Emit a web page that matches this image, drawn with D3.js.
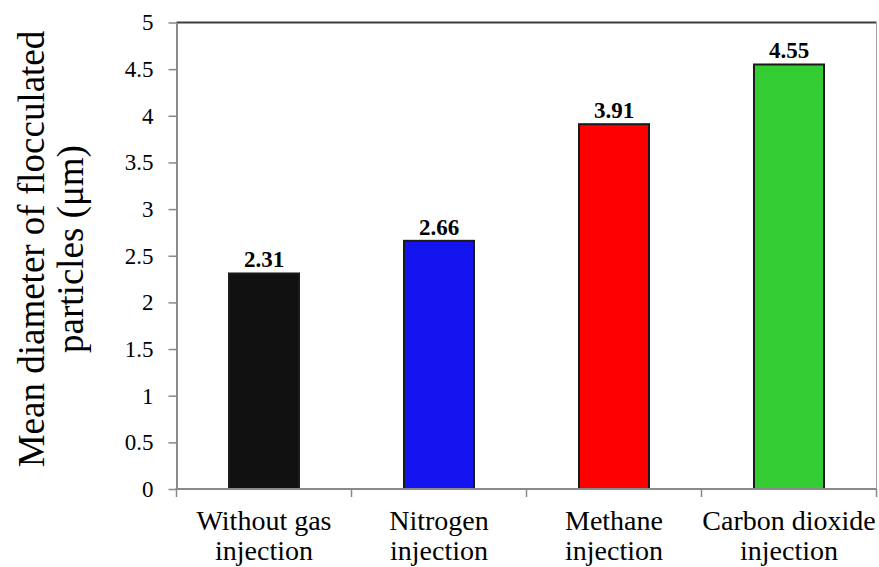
<!DOCTYPE html>
<html>
<head>
<meta charset="utf-8">
<script src="https://cdn.jsdelivr.net/npm/d3@7"></script>
<style>
  html, body { margin: 0; padding: 0; background: #fff; }
  svg { display: block; }
  svg text { font-family: "Liberation Serif", "Times New Roman", serif; }
</style>
</head>
<body>
<svg id="chart" width="879" height="567"></svg>
<script>
// Mean diameter of flocculated particles by gas injection type
const categories = ["Without gas injection", "Nitrogen injection", "Methane injection", "Carbon dioxide injection"];
const categoryLines = [["Without gas", "injection"], ["Nitrogen", "injection"], ["Methane", "injection"], ["Carbon dioxide", "injection"]];
const meanDiameter = [2.31, 2.66, 3.91, 4.55];
const barColors = ["#111111", "#1414f0", "#ff0000", "#33cc33"];
const yTicks = [0, 0.5, 1, 1.5, 2, 2.5, 3, 3.5, 4, 4.5, 5];
const yTitleLines = ["Mean diameter of flocculated", "particles (\u03bcm)"];

const serif = '"Liberation Serif", "Times New Roman", serif';
const svg = d3.select("#chart");
const plot = { left: 176.5, right: 876.5, top: 22.5, bottom: 489 };

const x = d3.scaleBand()
  .domain(categories)
  .range([plot.left, plot.right])
  .paddingInner(0.6)
  .paddingOuter(0.3);

// boundaries between categories (for the x tick marks)
const xEdge = d3.scaleLinear().domain([0, categories.length]).range([plot.left, plot.right]);

const y = d3.scaleLinear().domain([0, 5]).range([plot.bottom, plot.top]);

// bars
svg.append("g")
  .selectAll("rect")
  .data(meanDiameter)
  .join("rect")
  .attr("x", (d, i) => x(categories[i]))
  .attr("y", d => y(d))
  .attr("width", x.bandwidth())
  .attr("height", d => y(0) - y(d))
  .attr("fill", (d, i) => barColors[i])
  .attr("stroke", "#1a1a1a")
  .attr("stroke-width", 2);

// value labels
svg.append("g")
  .selectAll("text")
  .data(meanDiameter)
  .join("text")
  .attr("x", (d, i) => x(categories[i]) + x.bandwidth() / 2)
  .attr("y", d => y(d) - 6)
  .attr("text-anchor", "middle")
  .style("font-family", serif)
  .attr("font-weight", "bold")
  .attr("font-size", 23)
  .attr("fill", "#000")
  .text(d => d.toFixed(2));

// plot frame: top and right edges
svg.append("line")
  .attr("x1", plot.left).attr("x2", plot.right)
  .attr("y1", plot.top).attr("y2", plot.top)
  .attr("stroke", "#3c3c3c").attr("stroke-width", 2);
svg.append("line")
  .attr("x1", plot.right).attr("x2", plot.right)
  .attr("y1", plot.top).attr("y2", plot.bottom)
  .attr("stroke", "#a6a6a6").attr("stroke-width", 1);

// y axis
const yAxis = svg.append("g")
  .attr("transform", `translate(${plot.left},0)`)
  .call(d3.axisLeft(y).tickValues(yTicks).tickFormat(d3.format("")).tickSize(8).tickSizeOuter(0).tickPadding(15));
yAxis.attr("font-family", null).attr("font-size", null);
yAxis.select(".domain").attr("stroke", "#898989").attr("stroke-width", 2);
yAxis.selectAll(".tick line").attr("stroke", "#898989").attr("stroke-width", 1.5);
yAxis.selectAll(".tick text")
  .style("font-family", serif)
  .attr("font-size", 23).attr("fill", "#000");

// x axis line with tick marks at category boundaries
const xAxis = svg.append("g");
xAxis.append("line")
  .attr("x1", plot.left - 1).attr("x2", plot.right)
  .attr("y1", plot.bottom).attr("y2", plot.bottom)
  .attr("stroke", "#898989").attr("stroke-width", 2);
xAxis.selectAll("line.tick")
  .data(d3.range(categories.length + 1))
  .join("line")
  .attr("class", "tick")
  .attr("x1", d => xEdge(d)).attr("x2", d => xEdge(d))
  .attr("y1", plot.bottom).attr("y2", plot.bottom + 8)
  .attr("stroke", "#898989").attr("stroke-width", 1.5);

// category labels (two lines each)
const catLabels = xAxis.selectAll("text.cat")
  .data(categories)
  .join("text")
  .attr("class", "cat")
  .attr("text-anchor", "middle")
  .style("font-family", serif)
  .attr("font-size", 28)
  .attr("fill", "#000");
catLabels.selectAll("tspan")
  .data((d, i) => categoryLines[i].map(line => ({ line, cat: d })))
  .join("tspan")
  .attr("x", d => x(d.cat) + x.bandwidth() / 2)
  .attr("y", (d, j) => 530 + j * 30)
  .text(d => d.line);

// y axis title
const yTitle = svg.append("text")
  .attr("transform", "translate(0,249) rotate(-90)")
  .attr("text-anchor", "middle")
  .style("font-family", serif)
  .attr("font-size", 37)
  .attr("fill", "#000");
yTitle.selectAll("tspan")
  .data(yTitleLines)
  .join("tspan")
  .attr("x", 0)
  .attr("y", (d, i) => 44 + i * 39)
  .text(d => d);
</script>
</body>
</html>
